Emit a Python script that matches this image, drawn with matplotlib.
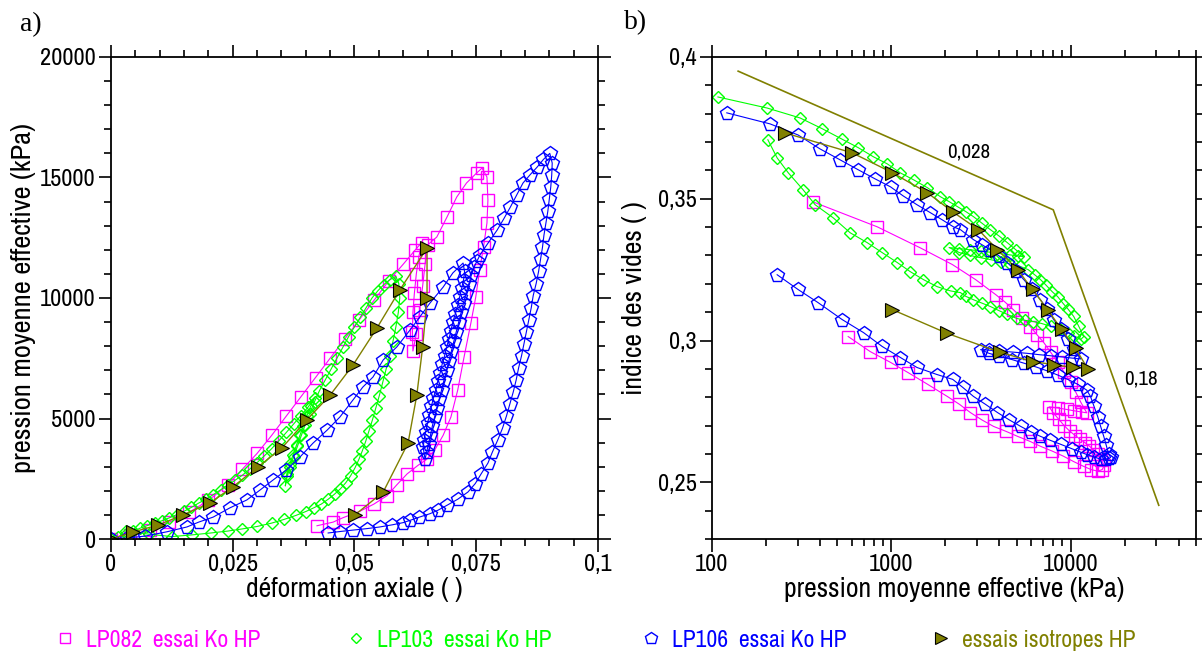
import matplotlib
matplotlib.use("Agg")
import matplotlib.pyplot as plt
from matplotlib.ticker import MultipleLocator, FuncFormatter, LogLocator, NullFormatter
from matplotlib.lines import Line2D

plt.rcParams['font.family'] = ['Archivo Narrow', 'DejaVu Sans']

# -----------------------------
# a) deformation axiale vs pression
# -----------------------------
lp082_def = [0, 0.004, 0.008, 0.012, 0.016, 0.020, 0.024, 0.027, 0.030, 0.033, 0.036, 0.039, 0.042,
             0.045, 0.048, 0.051, 0.054, 0.057, 0.060, 0.0625, 0.0638,
             0.0632, 0.0627, 0.0623, 0.0620, 0.0619, 0.0620, 0.0627, 0.0634, 0.0640, 0.0645, 0.0650,
             0.0669, 0.0690, 0.0710, 0.0730, 0.0751, 0.0762,
             0.0772, 0.0774, 0.0772, 0.0765, 0.0757, 0.0749, 0.0739, 0.0725, 0.0712, 0.0698, 0.0682,
             0.0665, 0.0648, 0.0630, 0.0608, 0.0587, 0.0567, 0.0540, 0.0511, 0.0476, 0.0456, 0.0423]
lp082_p = [0, 150, 380, 700, 1100, 1600, 2250, 2900, 3550, 4300, 5100, 5900, 6700,
           7500, 8300, 9100, 9900, 10700, 11400, 12000, 12300,
           11700, 11000, 10200, 9400, 8600, 7800, 8500, 9500, 10500, 11400, 12200,
           12530, 13360, 14190, 14770, 15190, 15390,
           15020, 14060, 13110, 12120, 11160, 10040, 8960, 7550, 6180, 5060, 4300,
           3700, 3300, 3050, 2700, 2250, 1800, 1450, 1150, 880, 700, 550]

lp103_def = [0, 0.0015, 0.003, 0.0045, 0.006, 0.0075, 0.009, 0.0105, 0.012, 0.0135, 0.015, 0.0165,
             0.018, 0.0195, 0.021, 0.0225, 0.024, 0.0255, 0.027, 0.0285, 0.030, 0.0315, 0.033,
             0.0345, 0.036, 0.0375, 0.039, 0.0405, 0.0418,
             0.0410, 0.0402, 0.0395, 0.0388, 0.0381, 0.0374, 0.0367, 0.0361, 0.0358,
             0.0362, 0.0368, 0.0375, 0.0383, 0.0391, 0.0399, 0.0408, 0.0418, 0.0428,
             0.0440, 0.0452, 0.0464, 0.0476, 0.0488, 0.0500, 0.0512, 0.0524, 0.0536, 0.0548,
             0.0560, 0.0572, 0.0585,
             0.0591, 0.0593, 0.0590, 0.0585, 0.0579, 0.0572, 0.0565, 0.0558, 0.0551, 0.0544,
             0.0537, 0.0530, 0.0523, 0.0516, 0.0509, 0.0501, 0.0492, 0.0482, 0.0471, 0.0459,
             0.0446, 0.0432, 0.0417, 0.0400, 0.0380, 0.0355, 0.0330, 0.0300, 0.0270, 0.0240,
             0.0205, 0.0166, 0.0125, 0.0078, 0.0030]
lp103_p = [0, 100, 200, 320, 450, 560, 660, 760, 880, 1010, 1150, 1310,
           1490, 1650, 1840, 2040, 2240, 2440, 2650, 2900, 3170, 3450, 3750,
           4080, 4420, 4770, 5120, 5480, 5850,
           5500, 5100, 4700, 4300, 3900, 3500, 3100, 2700, 2200,
           2600, 3000, 3400, 3850, 4300, 4750, 5200, 5700, 6150,
           6600, 7050, 7500, 7950, 8400, 8800, 9200, 9600, 10000, 10300,
           10550, 10750, 10900,
           10600, 10000, 9400, 8800, 8200, 7600, 7050, 6500, 5950, 5450,
           4950, 4500, 4050, 3650, 3300, 2950, 2620, 2330, 2080, 1860,
           1650, 1450, 1300, 1140, 980, 810, 660, 520, 420, 330,
           250, 170, 100, 200, 330]

lp106_def = [0, 0.0033, 0.0070, 0.0115, 0.0156, 0.0180, 0.0210, 0.0244, 0.0279, 0.0306, 0.0333,
             0.0360, 0.0388, 0.0415, 0.0444, 0.0470, 0.0497, 0.0517, 0.0538, 0.0559, 0.0587,
             0.0614, 0.0634, 0.0655, 0.0682, 0.0702, 0.0723,
             0.0726, 0.0724, 0.0720, 0.0716, 0.0712, 0.0707, 0.0702, 0.0698, 0.0694, 0.0689,
             0.0685, 0.0680, 0.0676, 0.0671, 0.0667, 0.0662, 0.0658, 0.0654, 0.0650, 0.0646,
             0.0643, 0.0641,
             0.0645, 0.0648, 0.0652, 0.0656, 0.0660, 0.0665, 0.0669, 0.0674, 0.0679, 0.0684,
             0.0689, 0.0694, 0.0699, 0.0704, 0.0709, 0.0714, 0.0719, 0.0724, 0.0729, 0.0735,
             0.0740, 0.0746, 0.0752, 0.0758,
             0.0775, 0.0793, 0.0807, 0.0820, 0.0833, 0.0846, 0.0860, 0.0875, 0.0888, 0.0901,
             0.0906, 0.0905, 0.0903, 0.0900, 0.0897, 0.0893, 0.0889, 0.0886, 0.0882, 0.0878,
             0.0873, 0.0867, 0.0863, 0.0858, 0.0853, 0.0848, 0.0843, 0.0837, 0.0832, 0.0826,
             0.0819, 0.0812, 0.0804, 0.0794, 0.0783, 0.0774, 0.0760, 0.0748, 0.0733, 0.0712,
             0.0690, 0.0672, 0.0655, 0.0632, 0.0615, 0.0600, 0.0578, 0.0552, 0.0525, 0.0497,
             0.0470, 0.0446]
lp106_p = [0, 40, 120, 300, 500, 700, 910, 1290, 1620, 2030, 2450,
           2860, 3400, 3980, 4520, 5060, 5770, 6300, 6720, 7430, 7970,
           8670, 9210, 9790, 10450, 11040, 11450,
           11100, 10750, 10400, 10050, 9700, 9350, 9000, 8650, 8300, 7950,
           7600, 7250, 6900, 6550, 6200, 5850, 5500, 5150, 4800, 4450,
           4100, 3800,
           3300, 3600, 3950, 4300, 4700, 5100, 5450, 5800, 6200, 6600,
           7000, 7400, 7800, 8200, 8600, 9000, 9400, 9800, 10200, 10600,
           10950, 11300, 11550, 11800,
           12300, 12820, 13300, 13770, 14270, 14770, 15100, 15430, 15750, 16000,
           15600, 15100, 14600, 14100, 13600, 13100, 12600, 12100, 11600, 11100,
           10600, 10100, 9600, 9100, 8600, 8100, 7600, 7100, 6600, 6100,
           5600, 5100, 4600, 4100, 3600, 3150, 2700, 2300, 1950, 1650,
           1400, 1200, 1050, 900, 780, 680, 590, 500, 430, 370,
           310, 250]

iso_def = [0, 0.0045, 0.0097, 0.0148, 0.0203, 0.0250, 0.0302, 0.0351, 0.0402, 0.0450,
           0.0497, 0.0546, 0.0593, 0.0649, 0.0649, 0.0640, 0.0628, 0.0610, 0.0559, 0.0501]
iso_p = [0, 290, 580, 1000, 1490, 2160, 2990, 3780, 4940, 5970,
         7220, 8750, 10330, 12070, 10000, 7970, 5970, 3980, 1950, 1000]

# -----------------------------
# b) pression vs indice des vides
# -----------------------------
lp082_pr = [366, 835, 1450, 2190, 2950, 3820, 4300, 4790, 5350, 5960, 6500, 7080, 7750, 8460,
            9200, 10000, 10700, 11400, 12300,
            11500, 10500, 9500, 8500, 7600,
            8000, 8600, 9200, 9900, 10600, 11300, 12000, 12700,
            13400, 14150, 14800, 15400,
            15000, 14200, 13000, 11830, 10400, 9120, 7900, 6790, 5900, 5060, 4350, 3720,
            3200, 2760, 2400, 2050, 1600, 1240, 990, 763, 575]
lp082_e = [0.3489, 0.3401, 0.3327, 0.3268, 0.3215, 0.3162, 0.3136, 0.3109, 0.3080, 0.3049, 0.3020,
           0.2993, 0.2958, 0.2923, 0.2888, 0.2852, 0.2817, 0.2782, 0.2745,
           0.2748, 0.2752, 0.2757, 0.2762, 0.2766,
           0.2745, 0.2722, 0.2700, 0.2680, 0.2665, 0.2652, 0.2640, 0.2628,
           0.2615, 0.2600, 0.2580, 0.2560,
           0.2545, 0.2539, 0.2545, 0.2556, 0.2573, 0.2592, 0.2610, 0.2627, 0.2645, 0.2662,
           0.2680, 0.2697, 0.2720, 0.2746, 0.2775, 0.2803, 0.2845, 0.2887, 0.2923, 0.2961, 0.3014]

lp103_pr = [108, 203, 310, 412, 532, 655, 795, 950, 1125, 1330, 1590, 1880, 2100, 2340, 2600,
            2870, 3200, 3570, 4000, 4440, 4950, 5480,
            5100, 4600, 4100, 3600, 3150, 2750, 2400, 2100,
            2400, 2750, 3150, 3600, 4100, 4600, 5200, 5800,
            6300, 6790, 7300, 7900, 8460, 9100, 9700, 10400, 11100, 11830,
            11400, 10500, 9620, 8700, 7760, 6900, 6200, 5600, 5000, 4440,
            4000, 3570, 3200, 2870, 2600, 2430, 2140, 1800, 1510, 1275,
            1080, 890, 735, 590, 474, 376, 322, 266, 231, 205]
lp103_e = [0.3859, 0.3820, 0.3785, 0.3747, 0.3710, 0.3680, 0.3648, 0.3623, 0.3591, 0.3567, 0.3539,
           0.3507, 0.3490, 0.3472, 0.3455, 0.3437, 0.3414, 0.3391, 0.3368, 0.3345, 0.3320, 0.3296,
           0.3298, 0.3302, 0.3306, 0.3311, 0.3316, 0.3320, 0.3324, 0.3328,
           0.3310, 0.3300, 0.3292, 0.3285, 0.3277, 0.3270, 0.3262, 0.3250,
           0.3232, 0.3215, 0.3195, 0.3172, 0.3155, 0.3130, 0.3110, 0.3085, 0.3050, 0.3014,
           0.3004, 0.3016, 0.3028, 0.3040, 0.3050, 0.3060, 0.3067, 0.3071, 0.3078, 0.3092,
           0.3105, 0.3120, 0.3132, 0.3144, 0.3156, 0.3169, 0.3175, 0.3190, 0.3215, 0.3243,
           0.3275, 0.3310, 0.3345, 0.3380, 0.3433, 0.3479, 0.3532, 0.3592, 0.3644, 0.3708]

lp106_pr = [121, 211, 302, 400, 519, 655, 813, 990, 1165, 1390, 1650, 1920, 2220, 2430, 2870,
            3200, 3570, 4000, 4440, 4950, 5480, 6100, 6790, 7400, 8040, 8800, 9620, 10500, 11400,
            10200, 9000, 7800, 6700, 5700, 4800, 4000, 3500, 3150,
            3500, 4000, 4700, 5500, 6400, 7400, 8500, 9700, 11000, 12300,
            12900, 13500, 14150, 14700, 15300, 15800, 16300,
            16700, 16400, 15700, 14700, 13500, 12300, 11400, 10200, 8800, 7700,
            6790, 6000, 5270, 4550, 3910, 3350, 2870, 2500, 2200, 1800,
            1390, 1125, 890, 700, 532, 390, 302, 231]
lp106_e = [0.3803, 0.3764, 0.3725, 0.3676, 0.3637, 0.3602, 0.3570, 0.3542, 0.3510, 0.3479, 0.3451,
           0.3426, 0.3401, 0.3391, 0.3356, 0.3338, 0.3320, 0.3298, 0.3275, 0.3245, 0.3215, 0.3180,
           0.3144, 0.3110, 0.3074, 0.3040, 0.3004, 0.2970, 0.2935,
           0.2938, 0.2942, 0.2946, 0.2950, 0.2955, 0.2959, 0.2963, 0.2966, 0.2968,
           0.2955, 0.2945, 0.2933, 0.2920, 0.2907, 0.2893, 0.2878, 0.2862, 0.2845, 0.2825,
           0.2803, 0.2768, 0.2732, 0.2697, 0.2662, 0.2630, 0.2600,
           0.2588, 0.2584, 0.2582, 0.2581, 0.2590, 0.2598, 0.2606, 0.2618, 0.2634, 0.2648,
           0.2662, 0.2678, 0.2697, 0.2720, 0.2746, 0.2775, 0.2803, 0.2835, 0.2863, 0.2880,
           0.2905, 0.2940, 0.2979, 0.3028, 0.3074, 0.3134, 0.3180, 0.3232]

iso_pr = [256, 605, 1013, 1590, 2200, 3060, 3910, 5060, 6130, 7440, 8910, 10660, 12440,
          10260, 8040, 6130, 4060, 2055, 1013]
iso_e = [0.3732, 0.3662, 0.3592, 0.3521, 0.3454, 0.3391, 0.3320, 0.3250, 0.3180, 0.3109, 0.3039,
         0.2972, 0.2901, 0.2905, 0.2915, 0.2926, 0.2958, 0.3025, 0.3109]

# pentes (lignes de reference)
ref_p = [140, 8000, 31000]
ref_e = [0.395, 0.3461, 0.2419]

labels = ["LP082  essai Ko HP", "LP103  essai Ko HP", "LP106  essai Ko HP", "essais isotropes HP"]

# -----------------------------
# styles
# -----------------------------
MAG = '#ff00ff'
GRN = '#00ff00'
BLU = '#0000ff'
OLV = '#808000'

sty082 = dict(color=MAG, marker='s', ms=8.5, mfc='none', mew=1.0, lw=0.8)
sty103 = dict(color=GRN, marker='D', ms=6.5, mfc='none', mew=1.0, lw=0.8)
sty106 = dict(color=BLU, marker='p', ms=10.5, mfc='none', mew=1.0, lw=0.8)
styiso = dict(color=OLV, marker='>', ms=10.5, mfc=OLV, mec='black', mew=0.8, lw=1.0)

fig = plt.figure(figsize=(12.02, 6.52), dpi=100)
ax1 = fig.add_axes([0.0923, 0.1733, 0.4052, 0.7393])
ax2 = fig.add_axes([0.5923, 0.1733, 0.4027, 0.7393])

comma = FuncFormatter(lambda v, pos: ('%g' % v).replace('.', ','))

ax1.plot(lp082_def, lp082_p, **sty082)
ax1.plot(lp103_def, lp103_p, **sty103)
ax1.plot(lp106_def, lp106_p, **sty106)
ax1.plot(iso_def, iso_p, **styiso)
ax1.set_xlim(0, 0.1)
ax1.set_ylim(0, 20000)
ax1.xaxis.set_major_locator(MultipleLocator(0.025))
ax1.xaxis.set_minor_locator(MultipleLocator(0.005))
ax1.yaxis.set_major_locator(MultipleLocator(5000))
ax1.yaxis.set_minor_locator(MultipleLocator(1000))
ax1.xaxis.set_major_formatter(comma)
ax1.set_xlabel("déformation axiale ( )", fontsize=20, labelpad=1)
ax1.set_ylabel("pression moyenne effective (kPa)", fontsize=20.5, labelpad=3)

ax2.plot(ref_p, ref_e, color=OLV, lw=1.2)
ax2.plot(lp082_pr, lp082_e, **sty082)
ax2.plot(lp103_pr, lp103_e, **sty103)
ax2.plot(lp106_pr, lp106_e, **sty106)
ax2.plot(iso_pr, iso_e, **styiso)
ax2.set_xscale('log')
ax2.set_xlim(100, 50000)
ax2.set_ylim(0.23, 0.4)
ax2.xaxis.set_major_locator(LogLocator(base=10))
ax2.xaxis.set_minor_locator(LogLocator(base=10, subs=range(2, 10)))
ax2.xaxis.set_major_formatter(FuncFormatter(lambda v, pos: '%d' % round(v)))
ax2.xaxis.set_minor_formatter(NullFormatter())
ax2.yaxis.set_major_locator(MultipleLocator(0.05))
ax2.yaxis.set_minor_locator(MultipleLocator(0.01))
ax2.yaxis.set_major_formatter(comma)
ax2.set_xlabel("pression moyenne effective (kPa)", fontsize=20, labelpad=1)
ax2.set_ylabel("indice des vides ( )", fontsize=20, labelpad=8)
ax2.text(2690, 0.3665, "0,028", fontsize=15, ha='center', va='center')
ax2.text(24600, 0.2866, "0,18", fontsize=15, ha='center', va='center')

for ax in (ax1, ax2):
    for s in ax.spines.values():
        s.set_linewidth(1.3)
    ax.tick_params(which='both', direction='out', top=True, right=True,
                   labeltop=False, labelright=False, width=1.2, labelsize=17.5)
    ax.tick_params(which='major', length=9, pad=2)
    ax.tick_params(which='minor', length=5)

fig.text(0.017, 0.962, "a)", family='Liberation Serif', fontsize=20, va='center')
fig.text(0.519, 0.965, "b)", family='Liberation Serif', fontsize=20, va='center')

# -----------------------------
# legende (une entree par bloc)
# -----------------------------
for s, lab, c, xa in zip((sty082, sty103, sty106, styiso), labels, (MAG, GRN, BLU, OLV),
                         (0.0466, 0.2887, 0.5341, 0.7754)):
    h = Line2D([], [], ls='none', **{k: v for k, v in s.items() if k != 'lw'})
    h.set_markersize(s['ms'] * 0.85)
    leg = fig.legend([h], [lab], loc='center left', bbox_to_anchor=(xa, 0.0184),
                     frameon=False, fontsize=17, handlelength=0.8, handletextpad=0.45,
                     borderpad=0, borderaxespad=0)
    leg.get_texts()[0].set_color(c)

fig.savefig("out.png", dpi=100)
